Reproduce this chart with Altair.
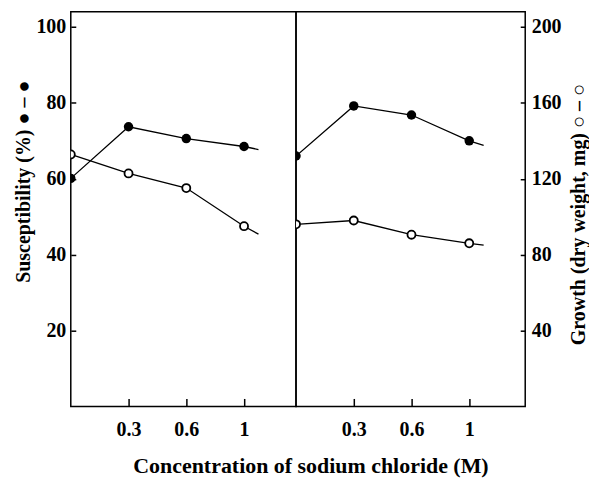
import altair as alt
import pandas as pd

# x categories (M NaCl) placed at equal steps, as in the figure
conc_labels = ["0", "0.3", "0.6", "1"]
conc_pos = [0, 1, 2, 3]
trail_pos = 3.25  # the drawn lines run on a little past the last point

# Left panel
susc_a = [60.1, 73.7, 70.6, 68.5]
susc_a_trail = 67.7
growth_a = [132.8, 122.8, 115.1, 95.0]
growth_a_trail = 90.8

# Right panel
susc_b = [66.0, 79.2, 76.8, 70.0]
susc_b_trail = 68.8
growth_b = [96.0, 98.0, 90.5, 86.0]
growth_b_trail = 85.0

susc_ticks = [20, 40, 60, 80, 100]
growth_ticks = [40, 80, 120, 160, 200]

FONT = "Liberation Serif"
H = 396

label_expr = "[" + ",".join("'%s'" % l for l in conc_labels) + "][datum.value]"


def panel(susc, susc_trail, growth, growth_trail, width, xmax, side):
    df = pd.DataFrame({
        "x": conc_pos + [trail_pos],
        "susc": susc + [susc_trail],
        "growth": growth + [growth_trail],
        "marker": [1, 1, 1, 1, 0],
    })
    xaxis = alt.Axis(values=conc_pos[1:], labelExpr=label_expr, title=None,
                     offset=-8, tickSize=8, labelPadding=13, domain=False, grid=False)
    x = alt.X("x:Q", scale=alt.Scale(domain=[0, xmax], nice=False, zero=False), axis=xaxis)

    if side == "left":
        saxis = alt.Axis(values=susc_ticks, orient="left", offset=-5, tickSize=5,
                         labelPadding=5, domain=False, grid=False,
                         title="Susceptibility (%) ● – ●", titleAngle=270,
                         titleX=-52, titleY=170, titleBaseline="middle", titleAlign="center")
        gaxis = None
    else:
        saxis = None
        gaxis = alt.Axis(values=growth_ticks, orient="right", offset=-5, tickSize=5,
                         labelPadding=6, domain=False, grid=False,
                         title="Growth (dry weight, mg)  ○ – ○", titleAngle=270,
                         titleX=58, titleY=203, titleBaseline="middle", titleAlign="center")

    sbase = alt.Chart(df).encode(
        x=x, y=alt.Y("susc:Q", scale=alt.Scale(domain=[0, 104], nice=False), axis=saxis))
    gbase = alt.Chart(df).encode(
        x=x, y=alt.Y("growth:Q", scale=alt.Scale(domain=[0, 208], nice=False), axis=gaxis))

    s_line = sbase.mark_line(color="black", strokeWidth=1.3, clip=True)
    s_pts = sbase.transform_filter("datum.marker == 1").mark_point(
        shape="circle", filled=True, color="black", size=90, opacity=1, clip=True)
    g_line = gbase.mark_line(color="black", strokeWidth=1.3, clip=True)
    g_pts = gbase.transform_filter("datum.marker == 1").mark_point(
        shape="circle", filled=True, fill="white", stroke="black", strokeWidth=1.8,
        size=65, opacity=1, clip=True)

    return alt.layer(alt.layer(s_line, s_pts), alt.layer(g_line, g_pts)).resolve_scale(
        y="independent").properties(width=width, height=H)


left = panel(susc_a, susc_a_trail, growth_a, growth_a_trail, 226, 3.9, "left")
right = panel(susc_b, susc_b_trail, growth_b, growth_b_trail, 230, 3.97, "right")

chart = alt.hconcat(
    left, right, spacing=0, bounds="flush",
    title=alt.TitleParams(text="Concentration of sodium chloride (M)", orient="bottom",
                          anchor="middle", font=FONT, fontSize=22, fontWeight="bold",
                          color="black", offset=16, dx=10),
).properties(
    padding={"left": 5, "top": 2, "right": 0, "bottom": 0}
).configure_view(
    stroke="black", strokeWidth=1.5
).configure_axis(
    labelFont=FONT, labelFontSize=20, labelFontWeight="bold", labelColor="black",
    titleFont=FONT, titleFontSize=20, titleFontWeight="bold", titleColor="black",
    tickColor="black", tickWidth=1.5
)

chart.save("out.html", embed_options={"renderer": "svg", "actions": False})
